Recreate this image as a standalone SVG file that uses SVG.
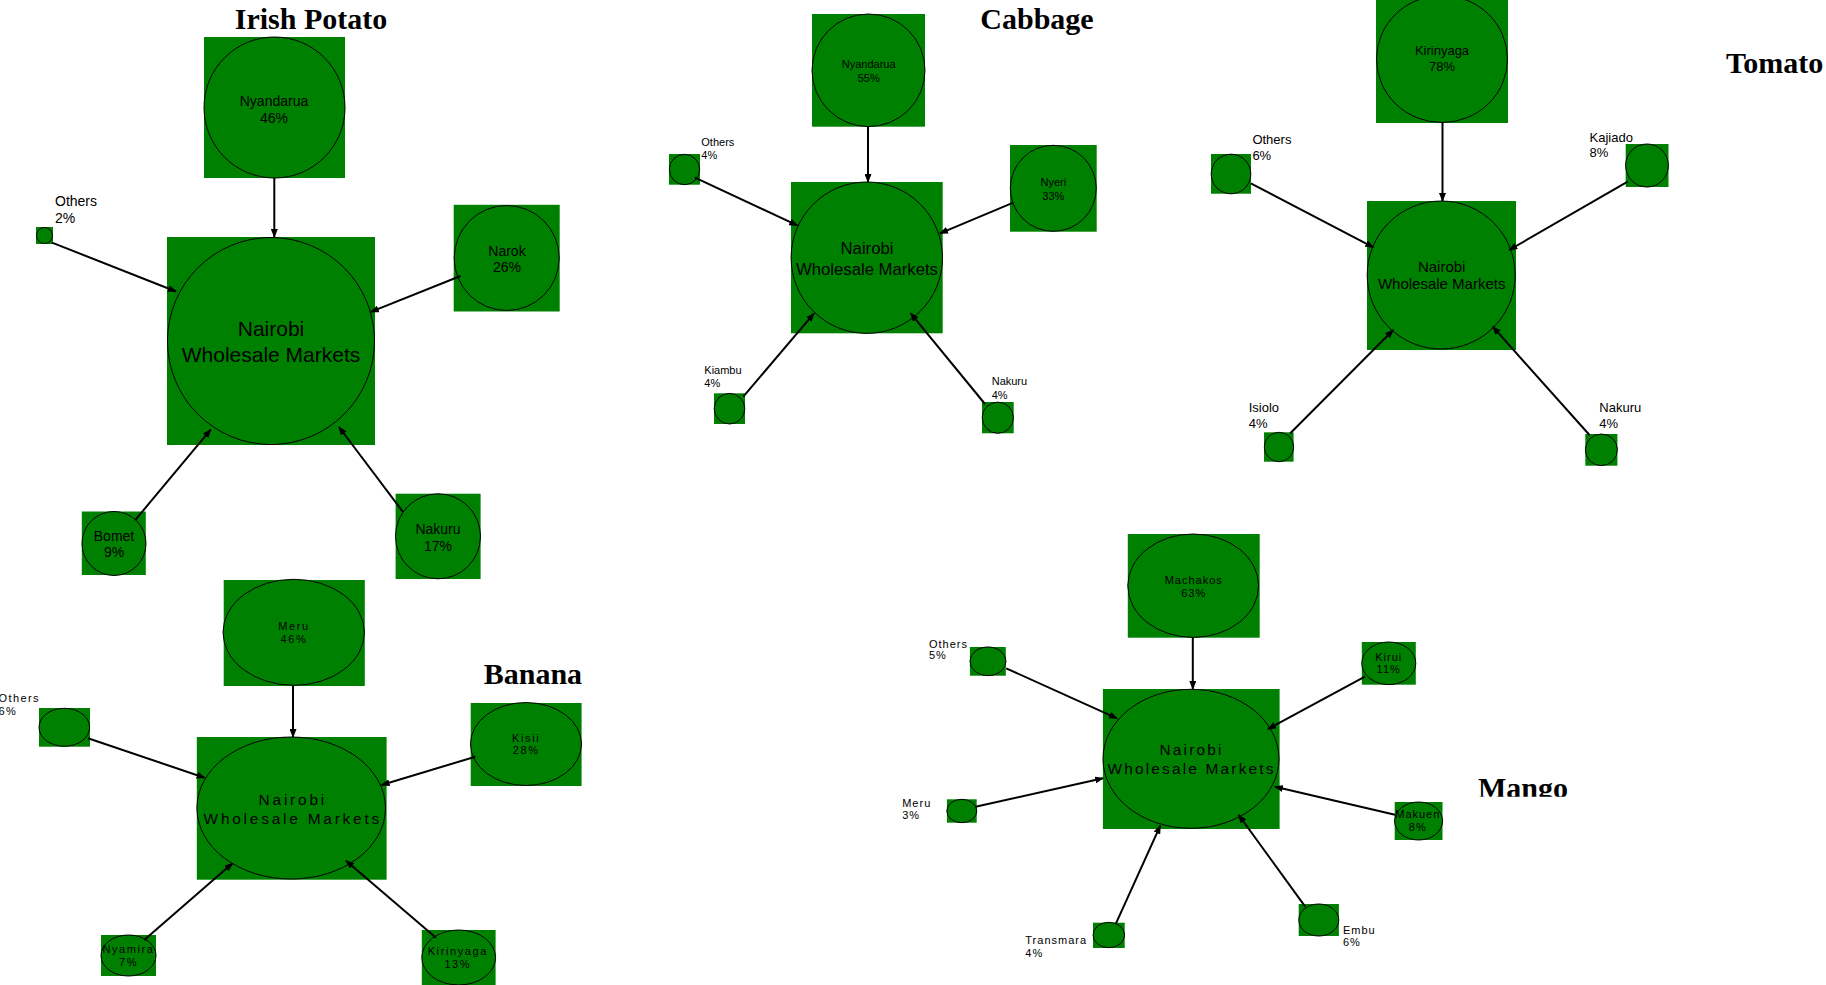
<svg xmlns="http://www.w3.org/2000/svg" width="1826" height="985" viewBox="0 0 1826 985">
<style>
.bg{fill:#008000;stroke:none}
.c{fill:#008000;stroke:#000;stroke-width:1}
.t{font-family:"Liberation Sans",Arial,sans-serif;fill:#000}
.ttl{font-family:"Liberation Serif","Times New Roman",serif;font-weight:bold;font-size:30px;fill:#000}
.ip{font-size:14px}
.ipc{font-size:21px}
.cb{font-size:11px}
.cbc{font-size:16.7px}
.tm{font-size:13px}
.tmc{font-size:15px}
.bn{font-size:11px;letter-spacing:1.6px}
.bno{font-size:11px;letter-spacing:1.4px}
.bnc{font-size:15.4px;letter-spacing:2.8px}
.mg{font-size:11px;letter-spacing:1px}
.mgc{font-size:15.4px;letter-spacing:2.2px}
.m{text-anchor:middle}
.conn line{stroke:#000;stroke-width:2;marker-end:url(#ah)}
</style>
<defs>
<marker id="ah" markerWidth="9" markerHeight="7" refX="8" refY="3.5" orient="auto" markerUnits="userSpaceOnUse">
<path d="M0,0 L9,3.5 L0,7 z" fill="#000"/>
</marker>
<clipPath id="mclip"><rect x="1400" y="740" width="426" height="56.8"/></clipPath>
</defs>
<rect x="0" y="0" width="1826" height="985" fill="#fff"/>

<g id="titles">
<text class="ttl m" x="311" y="29">Irish Potato</text>
<text class="ttl m" x="1037" y="29.3">Cabbage</text>
<text class="ttl" x="1726" y="73">Tomato</text>
<text class="ttl" x="483.7" y="683.5">Banana</text>
<text class="ttl" x="1478" y="798" clip-path="url(#mclip)">Mango</text>
</g>

<!-- Irish Potato -->
<g id="ip-nyandarua"><rect class="bg" x="204" y="37" width="141" height="141"/><ellipse class="c" cx="274.5" cy="107.5" rx="70.5" ry="70.5"/><text class="t ip m" x="274" y="105.5">Nyandarua</text><text class="t ip m" x="274" y="122.6">46%</text></g>
<g id="ip-nairobi"><rect class="bg" x="167" y="237" width="208" height="208"/><ellipse class="c" cx="271" cy="341" rx="103.5" ry="103.5"/><text class="t ipc m" x="271" y="336">Nairobi</text><text class="t ipc m" x="271" y="362">Wholesale Markets</text></g>
<g id="ip-others"><rect class="bg" x="36" y="227" width="17" height="17"/><circle class="c" cx="44.5" cy="235.5" r="8"/><text class="t ip" x="55" y="206">Others</text><text class="t ip" x="55" y="223">2%</text></g>
<g id="ip-narok"><rect class="bg" x="453.7" y="204.8" width="106" height="106.7"/><ellipse class="c" cx="506.7" cy="258" rx="52.5" ry="52.5"/><text class="t ip m" x="507" y="255.5">Narok</text><text class="t ip m" x="507" y="272">26%</text></g>
<g id="ip-bomet"><rect class="bg" x="81.8" y="511.5" width="64" height="63.5"/><ellipse class="c" cx="114" cy="543.5" rx="32" ry="32"/><text class="t ip m" x="114" y="540.7">Bomet</text><text class="t ip m" x="114" y="557.4">9%</text></g>
<g id="ip-nakuru"><rect class="bg" x="395.6" y="493.7" width="85" height="85.3"/><ellipse class="c" cx="438" cy="536.3" rx="42.5" ry="42.5"/><text class="t ip m" x="438" y="534">Nakuru</text><text class="t ip m" x="438" y="551">17%</text></g>

<!-- Cabbage -->
<g id="cb-nyandarua"><rect class="bg" x="812" y="14" width="113" height="112.7"/><ellipse class="c" cx="868.5" cy="70.3" rx="56.5" ry="56.3"/><text class="t cb m" x="868.7" y="67.7">Nyandarua</text><text class="t cb m" x="868.7" y="81.7">55%</text></g>
<g id="cb-nairobi"><rect class="bg" x="791" y="182" width="151.7" height="151.3"/><ellipse class="c" cx="866.8" cy="257.7" rx="75.7" ry="75.7"/><text class="t cbc m" x="867" y="254.3">Nairobi</text><text class="t cbc m" x="867" y="275">Wholesale Markets</text></g>
<g id="cb-others"><rect class="bg" x="669" y="154" width="31" height="30.7"/><circle class="c" cx="684.5" cy="169.5" r="15.2"/><text class="t cb" x="701.3" y="145.7">Others</text><text class="t cb" x="701.3" y="159.3">4%</text></g>
<g id="cb-nyeri"><rect class="bg" x="1010" y="145" width="86.7" height="86.7"/><circle class="c" cx="1053.3" cy="188.3" r="43"/><text class="t cb m" x="1053.3" y="186">Nyeri</text><text class="t cb m" x="1053.3" y="200">33%</text></g>
<g id="cb-kiambu"><rect class="bg" x="714" y="393.3" width="31" height="30.7"/><circle class="c" cx="729.5" cy="408.7" r="15.3"/><text class="t cb" x="704.3" y="374">Kiambu</text><text class="t cb" x="704.3" y="387.3">4%</text></g>
<g id="cb-nakuru"><rect class="bg" x="982" y="402" width="31.7" height="31.3"/><circle class="c" cx="997.8" cy="417.7" r="15.6"/><text class="t cb" x="991.7" y="385">Nakuru</text><text class="t cb" x="991.7" y="399">4%</text></g>

<!-- Tomato -->
<g id="tm-kirinyaga"><rect class="bg" x="1376" y="0" width="132" height="123"/><ellipse class="c" cx="1442" cy="59" rx="65.5" ry="63.5"/><text class="t tm m" x="1442" y="55">Kirinyaga</text><text class="t tm m" x="1442" y="70.7">78%</text></g>
<g id="tm-nairobi"><rect class="bg" x="1367" y="201" width="149" height="149"/><ellipse class="c" cx="1441.2" cy="275" rx="74" ry="74"/><text class="t tmc m" x="1441.7" y="271.7">Nairobi</text><text class="t tmc m" x="1441.7" y="289.3">Wholesale Markets</text></g>
<g id="tm-others"><rect class="bg" x="1211" y="154" width="40" height="39.7"/><circle class="c" cx="1231" cy="174" r="19.8"/><text class="t tm" x="1252.4" y="144">Others</text><text class="t tm" x="1252.4" y="160">6%</text></g>
<g id="tm-kajiado"><rect class="bg" x="1625.7" y="144" width="42.8" height="43"/><ellipse class="c" cx="1647" cy="165.5" rx="21.4" ry="21.5"/><text class="t tm" x="1589.5" y="141.7">Kajiado</text><text class="t tm" x="1589.5" y="157.3">8%</text></g>
<g id="tm-isiolo"><rect class="bg" x="1264" y="432.3" width="29.6" height="29.4"/><circle class="c" cx="1279" cy="447" r="14.7"/><text class="t tm" x="1248.7" y="412.3">Isiolo</text><text class="t tm" x="1248.7" y="428.3">4%</text></g>
<g id="tm-nakuru"><rect class="bg" x="1585.3" y="434" width="32.1" height="31.7"/><ellipse class="c" cx="1601.4" cy="449.8" rx="16" ry="15.8"/><text class="t tm" x="1599.3" y="412.3">Nakuru</text><text class="t tm" x="1599.3" y="428.3">4%</text></g>

<!-- Banana -->
<g id="bn-meru"><rect class="bg" x="223.7" y="580" width="141.1" height="106"/><ellipse class="c" cx="293.7" cy="632.3" rx="70.7" ry="53"/><text class="t bn m" x="294" y="630">Meru</text><text class="t bn m" x="294" y="642.7">46%</text></g>
<g id="bn-nairobi"><rect class="bg" x="196.8" y="737" width="189.8" height="142.7"/><ellipse class="c" cx="291.2" cy="808" rx="94.3" ry="71"/><text class="t bnc m" x="292.8" y="805">Nairobi</text><text class="t bnc m" x="292.8" y="824">Wholesale Markets</text></g>
<g id="bn-others"><rect class="bg" x="39" y="708" width="51" height="38.7"/><ellipse class="c" cx="64.3" cy="727.3" rx="25.3" ry="19"/><text class="t bno" x="-1.5" y="702.3">Others</text><text class="t bno" x="-1.5" y="715.3">6%</text></g>
<g id="bn-kisii"><rect class="bg" x="470.7" y="703" width="110.9" height="83"/><ellipse class="c" cx="526" cy="744" rx="55.5" ry="41.5"/><text class="t bn m" x="526.2" y="742">Kisii</text><text class="t bn m" x="526.2" y="754">28%</text></g>
<g id="bn-nyamira"><rect class="bg" x="101" y="935" width="55" height="41"/><ellipse class="c" cx="128.5" cy="955.5" rx="27.5" ry="20.5"/><text class="t bn m" x="128.5" y="953.3">Nyamira</text><text class="t bn m" x="128.5" y="966">7%</text></g>
<g id="bn-kirinyaga"><rect class="bg" x="421.8" y="930" width="73.8" height="55"/><ellipse class="c" cx="458.7" cy="957.5" rx="36.9" ry="27.5"/><text class="t bn m" x="457.8" y="955">Kirinyaga</text><text class="t bn m" x="457.8" y="967.7">13%</text></g>

<!-- Mango -->
<g id="mg-machakos"><rect class="bg" x="1127.8" y="534" width="131.9" height="103.7"/><ellipse class="c" cx="1193.2" cy="585.7" rx="65.4" ry="51.7"/><text class="t mg m" x="1193.7" y="584">Machakos</text><text class="t mg m" x="1193.7" y="596.7">63%</text></g>
<g id="mg-nairobi"><rect class="bg" x="1102.9" y="689" width="176.7" height="140"/><ellipse class="c" cx="1191" cy="758.8" rx="88" ry="69.5"/><text class="t mgc m" x="1191.6" y="755">Nairobi</text><text class="t mgc m" x="1191.6" y="774">Wholesale Markets</text></g>
<g id="mg-others"><rect class="bg" x="969.9" y="647" width="35.9" height="28.7"/><ellipse class="c" cx="988" cy="661.3" rx="18" ry="14.3"/><text class="t mg" x="929" y="647.7">Others</text><text class="t mg" x="929" y="659.3">5%</text></g>
<g id="mg-kirui"><rect class="bg" x="1361.8" y="642" width="54" height="42.7"/><ellipse class="c" cx="1388.8" cy="663.3" rx="27" ry="21.3"/><text class="t mg m" x="1388.7" y="660.7">Kirui</text><text class="t mg m" x="1388.7" y="673.3">11%</text></g>
<g id="mg-meru"><rect class="bg" x="946.9" y="799.3" width="29.8" height="23.4"/><ellipse class="c" cx="961.8" cy="811" rx="15" ry="11.7"/><text class="t mg" x="902.2" y="807.3">Meru</text><text class="t mg" x="902.2" y="819.3">3%</text></g>
<g id="mg-makuen"><rect class="bg" x="1394.7" y="802" width="47.8" height="38"/><ellipse class="c" cx="1418.6" cy="821" rx="24" ry="19"/><text class="t mg m" x="1417.8" y="818.3">Makuen</text><text class="t mg m" x="1417.8" y="830.7">8%</text></g>
<g id="mg-transmara"><rect class="bg" x="1093" y="922.7" width="31.7" height="25.3"/><ellipse class="c" cx="1108.8" cy="935" rx="15.8" ry="12.7"/><text class="t mg" x="1025.3" y="944">Transmara</text><text class="t mg" x="1025.3" y="956.7">4%</text></g>
<g id="mg-embu"><rect class="bg" x="1298.7" y="904" width="40.2" height="32"/><ellipse class="c" cx="1318.8" cy="920" rx="20" ry="16"/><text class="t mg" x="1343" y="934">Embu</text><text class="t mg" x="1343" y="946">6%</text></g>

<g id="connectors" class="conn">
<line x1="274.3" y1="178" x2="274.3" y2="237"/>
<line x1="52" y1="242.6" x2="176" y2="291.5"/>
<line x1="460.5" y1="276" x2="370.8" y2="311.9"/>
<line x1="135.6" y1="519.6" x2="210.7" y2="429.6"/>
<line x1="403" y1="512" x2="339" y2="427"/>

<line x1="868" y1="126.7" x2="868" y2="182"/>
<line x1="695" y1="177.7" x2="797.3" y2="225.3"/>
<line x1="1013.3" y1="202.7" x2="940" y2="233.3"/>
<line x1="743.3" y1="396.7" x2="814" y2="313.3"/>
<line x1="985" y1="404" x2="910.7" y2="313.3"/>

<line x1="1442.5" y1="122" x2="1442.5" y2="201"/>
<line x1="1250.8" y1="183.3" x2="1373.4" y2="247.3"/>
<line x1="1627.7" y1="181.7" x2="1509.2" y2="250"/>
<line x1="1290.3" y1="433.3" x2="1393.2" y2="330"/>
<line x1="1589.5" y1="435" x2="1492.8" y2="326.7"/>

<line x1="293" y1="686" x2="293" y2="737"/>
<line x1="88" y1="738.3" x2="204.6" y2="777.7"/>
<line x1="475.3" y1="756.7" x2="381.6" y2="785"/>
<line x1="144.2" y1="940" x2="232.5" y2="863.3"/>
<line x1="436" y1="937.7" x2="346" y2="860.7"/>

<line x1="1192.8" y1="637.7" x2="1192.8" y2="689"/>
<line x1="1006.2" y1="668.3" x2="1117" y2="718.3"/>
<line x1="1364.9" y1="676.7" x2="1268.1" y2="729"/>
<line x1="975.6" y1="806.7" x2="1103" y2="778.3"/>
<line x1="1395" y1="814.7" x2="1275" y2="786.7"/>
<line x1="1116" y1="923.3" x2="1160.3" y2="825.7"/>
<line x1="1305.2" y1="906.7" x2="1238.7" y2="815"/>
</g>
</svg>
